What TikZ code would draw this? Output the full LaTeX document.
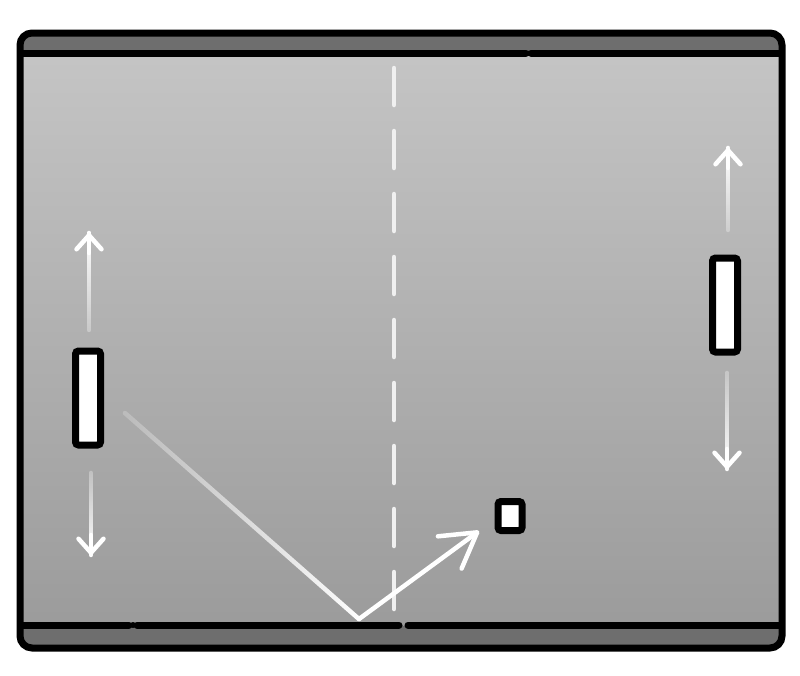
\documentclass[tikz,border=0pt]{standalone}
\usetikzlibrary{arrows.meta,fadings}
\tikzfading[name=fadeup, top color=transparent!0, bottom color=transparent!70]
\tikzfading[name=fadedown, top color=transparent!70, bottom color=transparent!0]
\tikzfading[name=fadeball, left color=transparent!80, right color=transparent!0]
\begin{document}
\begin{tikzpicture}[x=1pt,y=-1pt,
  ink/.style={line width=7pt,black,line cap=round},
  block/.style={draw,ink,fill=white,inner sep=0pt,rounded corners=3pt},
  paddle/.style={block,minimum width=25pt,minimum height=94pt},
  ballbox/.style={block,minimum width=24pt,minimum height=29pt},
  shaft/.style={white,line width=4.5pt,line cap=round},
  move/.style={shaft,line join=round,
    -{Straight Barb[length=14pt,width=25pt,round]}},
  net/.style={white!88!gray,line width=4.5pt,line cap=round}]
\useasboundingbox (0,0) rectangle (800,675);
% court
\fill[black!57] (20,33) [rounded corners=12pt] rectangle (782,648);
\shade[top color=black!23,bottom color=black!39] (22,53) rectangle (780,625);
\draw[ink] (22,53) -- (526,53) (531,53) -- (780,53);
\draw[ink] (22,625) -- (129,625) (137,625) -- (399,625) (408,625) -- (780,625);
\fill[black] (133,625) circle (3pt);
\draw[ink,rounded corners=12pt] (20,33) rectangle (782,648);
% net
\foreach \y in {68,131,...,572}
  \draw[net] (394,\y) -- (394,\y+37);
% paddles and ball
\node[paddle] (lpad) at (88,398) {};
\node[paddle] (rpad) at (725,305) {};
\node[ballbox] (ball) at (510,516) {};
% moves (faded shaft, then the tip)
\coordinate (lup) at (89,233);
\coordinate (ldown) at (91,555);
\coordinate (rup) at (728,148);
\coordinate (rdown) at (727,469);
\draw[shaft,path fading=fadeup] ([yshift=-97pt]lup) -- (lup);
\draw[move] ([yshift=-20pt]lup) -- (lup);
\draw[shaft,path fading=fadedown] ([yshift=82pt]ldown) -- (ldown);
\draw[move] ([yshift=20pt]ldown) -- (ldown);
\draw[shaft,path fading=fadeup] ([yshift=-82pt]rup) -- (rup);
\draw[move] ([yshift=-20pt]rup) -- (rup);
\draw[shaft,path fading=fadedown] ([yshift=96pt]rdown) -- (rdown);
\draw[move] ([yshift=20pt]rdown) -- (rdown);
% ball path
\coordinate (start) at (125,413);
\coordinate (bounce) at (359,619);
\coordinate (aim) at (479,531);
\draw[shaft,path fading=fadeball] (start) -- (bounce);
\draw[move,-{Straight Barb[length=34pt,width=40pt,round]}] (bounce) -- (aim);
\end{tikzpicture}
\end{document}
